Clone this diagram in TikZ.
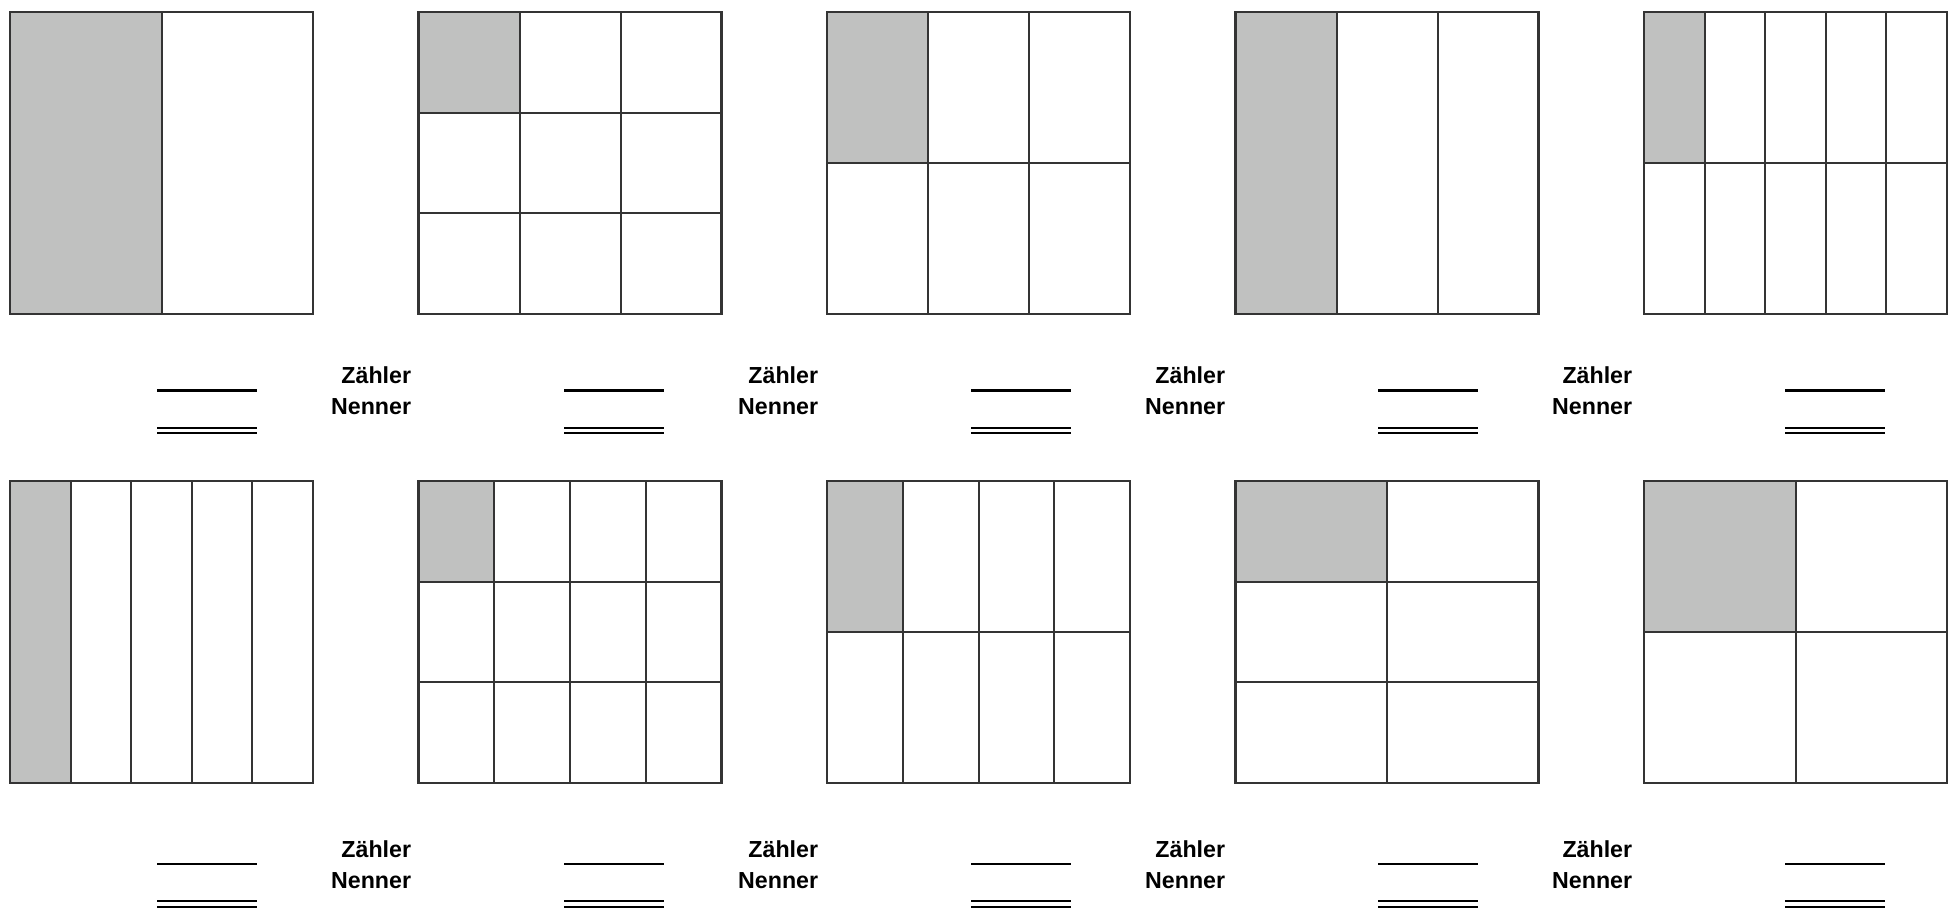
\documentclass[tikz,border=0pt]{standalone}
\usepackage{fontspec}
\setsansfont{Liberation Sans}
\usepackage{tikz}
\definecolor{xshade}{RGB}{192,193,192}
\definecolor{xline}{RGB}{52,52,52}

% one fraction square: left, top, columns, rows (top-left cell shaded)
\newcommand{\fracgrid}[4]{%
  \fill[cellfill] (#1,#2) rectangle ++(303/#3,302/#4);
  \foreach \c in {1,...,#3}{
    \foreach \r in {1,...,#4}{
      \draw[cell] ({#1+(\c-1)*303/#3},{#2+(\r-1)*302/#4}) rectangle ++(303/#3,302/#4);
    }
  }
  \draw[frame] (#1,#2) rectangle ++(303,302);
}

\begin{document}
\begin{tikzpicture}[
  x=0.5pt, y=-0.5pt,
  cell/.style={draw=xline, line width=1pt},
  frame/.style={draw=xline, line width=1.3pt},
  cellfill/.style={fill=xshade},
  numline/.style={draw=black, line width=1.3pt},
  denline/.style={draw=black, line width=1.1pt, double=white, double distance=1.6pt},
  lbl/.style={font=\sffamily\bfseries\fontsize{11.6}{14}\selectfont, anchor=base east, inner sep=0pt}
]
  \useasboundingbox (0,0) rectangle (1957,915);

  % first row
  \fracgrid{10}{12}{2}{1}
  \fracgrid{418.5}{12}{3}{3}
  \fracgrid{827}{12}{3}{2}
  \fracgrid{1235.5}{12}{3}{1}
  \fracgrid{1644}{12}{5}{2}

  % second row
  \fracgrid{10}{481}{5}{1}
  \fracgrid{418.5}{481}{4}{3}
  \fracgrid{827}{481}{4}{2}
  \fracgrid{1235.5}{481}{2}{3}
  \fracgrid{1644}{481}{2}{2}

  % blanks for the answers
  \foreach \i in {0,...,4}{
    \draw[numline] ({157+407*\i},390.7) -- ++(100,0);
    \draw[denline] ({157+407*\i},430.5) -- ++(100,0);
    \draw[numline] ({157+407*\i},864) -- ++(100,0);
    \draw[denline] ({157+407*\i},904) -- ++(100,0);
  }

  % labels
  \foreach \i in {0,...,3}{
    \node[lbl] (zA\i) at ({411.5+407*\i},383) {Zähler};
    \node[lbl] (nA\i) at ({411.5+407*\i},414.5) {Nenner};
    \node[lbl] (zB\i) at ({411.5+407*\i},857) {Zähler};
    \node[lbl] (nB\i) at ({411.5+407*\i},888.5) {Nenner};
  }
\end{tikzpicture}
\end{document}
